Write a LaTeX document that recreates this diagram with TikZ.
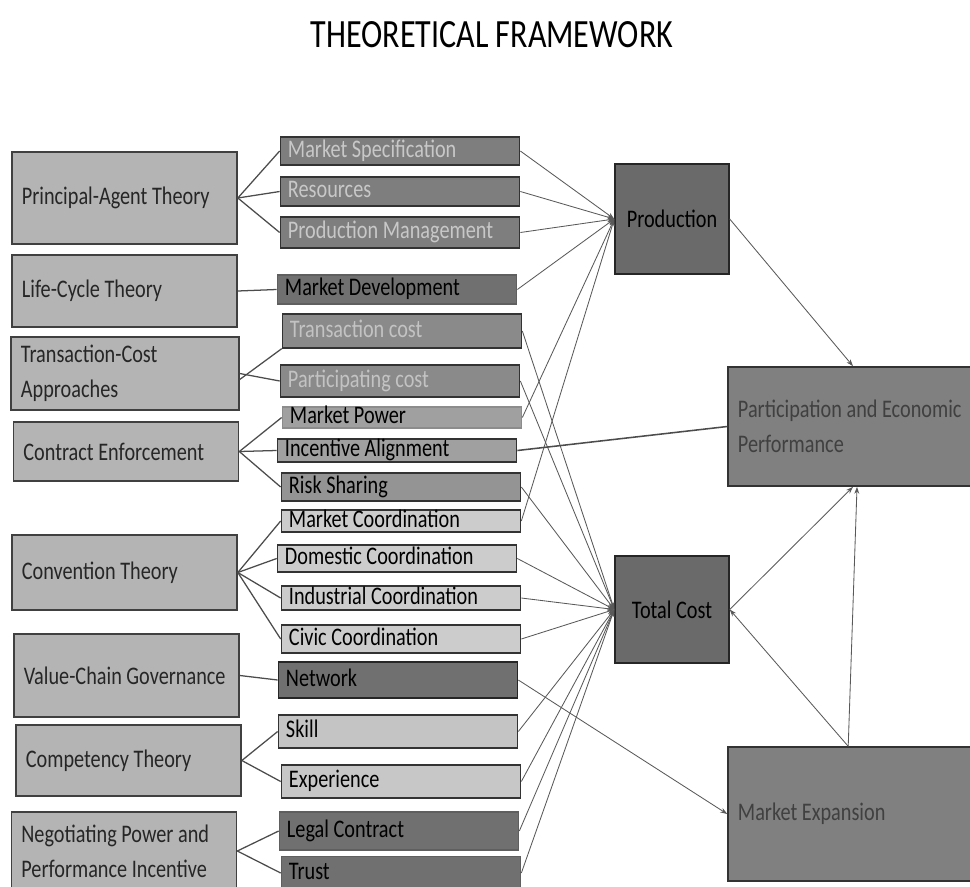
\documentclass[tikz,border=0pt]{standalone}
\usepackage{fontspec}
\setmainfont{Carlito}[FakeStretch=0.8]
\usetikzlibrary{arrows.meta}

\definecolor{theorygray}{RGB}{180,180,180}
\definecolor{fdarkgray}{RGB}{126,126,126}
\definecolor{fcostgray}{RGB}{138,138,138}
\definecolor{fmidgray}{RGB}{160,160,160}
\definecolor{flightgray}{RGB}{204,204,204}
\definecolor{fdeepgray}{RGB}{112,112,112}
\definecolor{palegray}{RGB}{200,200,200}
\definecolor{hubgray}{RGB}{106,106,106}
\definecolor{outgray}{RGB}{128,128,128}

\newcommand{\boxfont}{\fontsize{18}{25}\selectfont}

\tikzset{
  theory/.style={draw=black!75, line width=1pt, fill=theorygray, minimum width=5.63cm,
    text width=5.13cm, inner xsep=0.25cm, align=flush left, font=\boxfont, text=black!85},
  factor/.style={draw=black!80, line width=1pt, minimum width=5.98cm, text width=5.6cm,
    inner xsep=0.19cm, inner ysep=0pt, text height=12pt, text depth=3pt, align=flush left,
    font=\boxfont, text=black},
  fdark/.style={factor, fill=fdarkgray, text=palegray},
  fcost/.style={factor, fill=fcostgray, text=palegray!110},
  fmid/.style={factor, fill=fmidgray},
  flight/.style={factor, fill=flightgray},
  fdeep/.style={factor, fill=fdeepgray, draw=fdeepgray!85!black},
  hub/.style={draw=black!85, line width=1pt, fill=hubgray, minimum width=2.85cm,
    font=\boxfont},
  outcome/.style={draw=black!80, line width=1pt, fill=outgray, minimum width=6.25cm,
    text width=5.75cm, inner xsep=0.25cm, align=flush left, font=\boxfont, text=black!75},
  link/.style={draw=black!70, line width=0.9pt},
  feed/.style={draw=black!65, line width=0.6pt, -{Stealth[length=5pt, width=3.5pt]}},
}

\begin{document}
\begin{tikzpicture}[x=0.025cm, y=-0.025cm]
\useasboundingbox (0,0) rectangle (970,886);

% =====================
% TITLE
% =====================
\node[font=\fontsize{28.5}{32}\selectfont] (title) at (492,35) {THEORETICAL FRAMEWORK};

% =====================
% THEORIES
% =====================
\node[theory, minimum height=2.3cm] (pat) at (124.5,198) {Principal-Agent Theory};
\node[theory, minimum height=1.8cm] (lct) at (124.5,291) {Life-Cycle Theory};
\node[theory, minimum height=1.83cm, text width=5.2cm] (tca) at (125,373.5) {Transaction-Cost\\Approaches};
\node[theory, minimum height=1.48cm] (cen) at (126,451.5) {Contract Enforcement};
\node[theory, minimum height=1.88cm] (cvt) at (124.5,572.5) {Convention Theory};
\node[theory, minimum height=2.08cm] (vcg) at (126.5,675.5) {Value-Chain Governance};
\node[theory, minimum height=1.78cm] (cpt) at (128.5,760.5) {Competency Theory};
\node[theory, minimum height=1.95cm] (npi) at (124,851) {Negotiating Power and\\Performance Incentive};

% =====================
% FACTORS
% =====================
\node[fdark, minimum height=0.7cm] (ms) at (400,151) {Market Specification};
\node[fdark, minimum height=0.725cm] (res) at (400,191.5) {Resources};
\node[fdark, minimum height=0.775cm] (pm) at (400,232.5) {Production Management};
\node[fdeep, minimum height=0.725cm] (md) at (397,289.5) {Market Development};
\node[fcost, minimum height=0.85cm] (tc) at (402,331) {Transaction cost};
\node[fcost, minimum height=0.8cm] (pc) at (400,381) {Participating cost};
\node[fmid, minimum height=0.525cm, draw=black!45] (mp) at (402,417.5) {Market Power};
\node[fmid, minimum height=0.575cm] (ia) at (397,450.5) {Incentive Alignment};
\node[fmid, minimum height=0.7cm, fill=black!42] (rs) at (401,487) {Risk Sharing};
\node[flight, minimum height=0.55cm] (mc) at (401,521) {Market Coordination};
\node[flight, minimum height=0.675cm] (dc) at (397,558.5) {Domestic Coordination};
\node[flight, minimum height=0.6cm] (ic) at (401,598) {Industrial Coordination};
\node[flight, minimum height=0.7cm] (cc) at (401,639) {Civic Coordination};
\node[fdeep, minimum height=0.9cm, draw=black!85] (nw) at (398,680) {Network};
\node[flight, minimum height=0.825cm, fill=black!23] (sk) at (398,731.5) {Skill};
\node[flight, minimum height=0.825cm, fill=black!22] (ex) at (401,781.5) {Experience};
\node[fdeep, minimum height=0.95cm] (lc) at (399,831) {Legal Contract};
\node[fdeep, minimum height=0.825cm] (tr) at (401,873) {Trust};

% =====================
% OUTCOMES
% =====================
\node[hub, minimum height=2.75cm] (prod) at (672,219) {Production};
\node[hub, minimum height=2.68cm] (tcost) at (672,609.5) {Total Cost};
\node[outcome, minimum height=2.98cm] (pep) at (853,426.5) {Participation and Economic\\Performance};
\node[outcome, minimum height=3.35cm] (mex) at (853,814) {Market Expansion};

% =====================
% THEORY -> FACTOR
% =====================
\draw[link] (pat.east) -- (ms.west);
\draw[link] (pat.east) -- (res.west);
\draw[link] (pat.east) -- (pm.west);
\draw[link] (lct.east) -- (md.west);
\draw[link] ([yshift=-0.15cm]tca.east) -- (tc.south west);
\draw[link] (tca.east) -- (pc.west);
\draw[link] (cen.east) -- (mp.west);
\draw[link] (cen.east) -- (ia.west);
\draw[link] (cen.east) -- (rs.west);
\draw[link] (cvt.east) -- (mc.west);
\draw[link] (cvt.east) -- (dc.west);
\draw[link] (cvt.east) -- (ic.west);
\draw[link] (cvt.east) -- (cc.west);
\draw[link] (vcg.east) -- (nw.west);
\draw[link] (cpt.east) -- (sk.west);
\draw[link] (cpt.east) -- (ex.west);
\draw[link] (npi.east) -- (lc.west);
\draw[link] (npi.east) -- (tr.west);

% =====================
% FACTOR -> PRODUCTION
% =====================
\foreach \f in {ms,res,pm,md,mp,mc}
  \draw[feed] (\f.east) -- (prod.west);

% =====================
% FACTOR -> TOTAL COST
% =====================
\foreach \f in {tc,pc,rs,dc,ic,cc,sk,ex,lc,tr}
  \draw[feed] (\f.east) -- (tcost.west);

% =====================
% OUTCOME LINKS
% =====================
\draw[link, line width=1.1pt] (ia.east) -- (pep.west);
\draw[feed] (nw.east) -- (mex.west);
\draw[feed] (prod.east) -- (pep.north);
\draw[feed] (tcost.east) -- (pep.south);
\draw[feed] ([xshift=-0.12cm]mex.north) -- (tcost.east);
\draw[feed] ([xshift=-0.12cm]mex.north) -- ([xshift=0.1cm]pep.south);

\end{tikzpicture}
\end{document}
